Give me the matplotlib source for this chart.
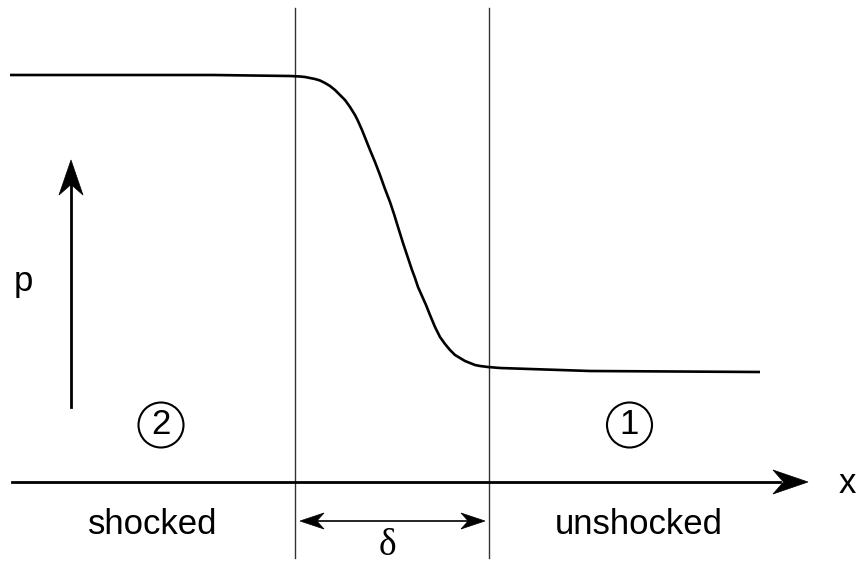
import matplotlib
matplotlib.use("Agg")
import matplotlib.pyplot as plt
from matplotlib.patches import Polygon, Circle
import numpy as np

# pressure profile (pixel-space of the diagram, y downwards)
curve_x = [10, 213, 290, 300, 305, 310, 315, 320, 325, 330, 335, 340, 345, 350,
           355, 358, 362, 366, 370, 375, 380, 385, 390, 394, 398, 403, 408, 412,
           415, 418, 422, 426, 430, 435, 440, 445, 450, 455, 460, 465, 470, 475,
           480, 488, 500, 590, 760]
curve_y = [75, 75, 76, 76.5, 77, 78, 79, 80.5, 83, 86, 90, 95, 100, 107,
           115, 121, 130, 140, 150, 162, 175, 189, 202, 214, 227, 243, 258, 270,
           278, 287, 296, 305, 315, 327, 337, 344, 350, 355, 358, 361, 363, 365,
           366, 367, 368, 371, 372]

shock_edges = [295, 489]
region_labels = ["shocked", "unshocked"]
region_numbers = ["2", "1"]

fig = plt.figure(figsize=(8.57, 5.62), dpi=100)
ax = fig.add_axes([0, 0, 1, 1])
ax.set_xlim(0, 857)
ax.set_ylim(562, 0)
ax.axis("off")

sans = "Liberation Sans"

def head(tip, direction, length=35, half=12, notch=0.3):
    d = np.array(direction, float); d /= np.linalg.norm(d)
    n = np.array([-d[1], d[0]])
    t = np.array(tip, float)
    base = t - d * length
    pts = [t, base + n * half, t - d * length * (1 - notch), base - n * half]
    ax.add_patch(Polygon(pts, closed=True, fc="black", ec="black", lw=0.5, zorder=5))

# shock edges
for xe in shock_edges:
    ax.plot([xe, xe], [8, 558], color="#333333", lw=1.0)

# x axis
ax.plot([12, 780], [482, 482], color="black", lw=2.0)
head((808, 482), (1, 0), length=35, half=12)
ax.text(847, 493, "x", fontsize=25, family=sans, ha="center", va="baseline")

# p arrow
ax.plot([71, 71], [407, 180], color="black", lw=2.0)
head((71, 160), (0, -1), length=35, half=12)
ax.text(23, 291, "p", fontsize=25, family=sans, ha="center", va="baseline")

# curve
ax.plot(curve_x, curve_y, color="black", lw=1.9, solid_capstyle="butt",
        solid_joinstyle="round")

# circled numbers
for cx, num in zip([161, 629.5], region_numbers):
    ax.add_patch(Circle((cx, 425), 22.5, fill=False, ec="black", lw=1.5))
    ax.text(cx, 434, num, fontsize=25, family=sans, ha="center", va="baseline")

# region labels
ax.text(152.5, 534, region_labels[0], fontsize=25, family=sans, ha="center", va="baseline")
ax.text(638.5, 534, region_labels[1], fontsize=25, family=sans, ha="center", va="baseline")

# delta double arrow
ax.plot([315, 470], [521, 521], color="black", lw=1.2)
head((300, 521), (-1, 0), length=24, half=8)
head((485, 521), (1, 0), length=24, half=8)
ax.text(387, 555, "δ", fontsize=27, family="Liberation Serif", ha="center", va="baseline")

fig.savefig("out.png", dpi=100)
